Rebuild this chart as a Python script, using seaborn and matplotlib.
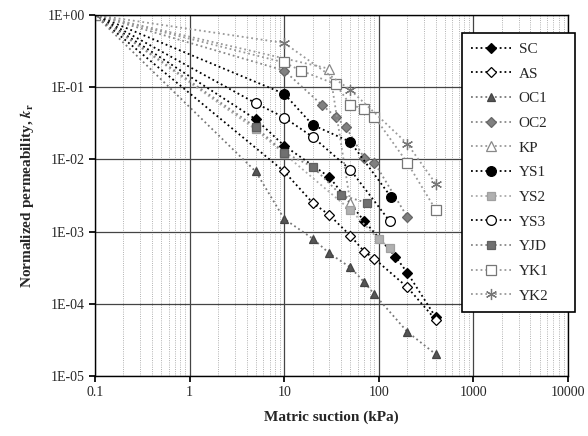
import numpy as np
import pandas as pd
import matplotlib
matplotlib.use("Agg")
import matplotlib.pyplot as plt
import seaborn as sns
from matplotlib.ticker import LogLocator, FixedLocator, NullFormatter

sns.set_theme(style="white")
plt.rcParams['font.family'] = ['Liberation Serif', 'DejaVu Serif']
plt.rcParams['mathtext.fontset'] = 'stix'

# ---- data (matric suction kPa, normalized permeability) ----
SC_x = [0.1, 5, 10, 30, 70, 150, 200, 400]
SC_k = [1, 0.036, 0.0155, 0.0057, 0.0014, 0.00045, 0.00027, 6.5e-5]
AS_x = [0.1, 10, 20, 30, 50, 70, 90, 200, 400]
AS_k = [1, 0.0068, 0.0025, 0.0017, 0.00088, 0.00053, 0.00042, 0.00017, 6e-5]
OC1_x = [0.1, 5, 10, 20, 30, 50, 70, 90, 200, 400]
OC1_k = [1, 0.0068, 0.0015, 0.0008, 0.0005, 0.00032, 0.0002, 0.000135, 4.1e-5, 2e-5]
OC2_x = [0.1, 10, 25, 35, 45, 70, 90, 200]
OC2_k = [1, 0.17, 0.057, 0.039, 0.028, 0.0105, 0.009, 0.0016]
KP_x = [0.1, 30, 50]
KP_k = [1, 0.18, 0.0025]
YS1_x = [0.1, 10, 20, 50, 135]
YS1_k = [1, 0.081, 0.030, 0.0175, 0.003]
YS2_x = [0.1, 5, 10, 50, 100, 130]
YS2_k = [1, 0.026, 0.012, 0.002, 0.00078, 0.0006]
YS3_x = [0.1, 5, 10, 20, 50, 130]
YS3_k = [1, 0.06, 0.038, 0.0205, 0.0072, 0.0014]
YJD_x = [0.1, 5, 10, 20, 40, 75]
YJD_k = [1, 0.028, 0.0124, 0.0079, 0.0032, 0.0025]
YK1_x = [0.1, 10, 15, 35, 50, 70, 90, 200, 400]
YK1_k = [1, 0.22, 0.17, 0.11, 0.057, 0.05, 0.039, 0.009, 0.002]
YK2_x = [0.1, 10, 50, 200, 400]
YK2_k = [1, 0.41, 0.092, 0.0165, 0.0046]

series = [
    ("SC", SC_x, SC_k), ("AS", AS_x, AS_k), ("OC1", OC1_x, OC1_k),
    ("OC2", OC2_x, OC2_k), ("KP", KP_x, KP_k), ("YS1", YS1_x, YS1_k),
    ("YS2", YS2_x, YS2_k), ("YS3", YS3_x, YS3_k), ("YJD", YJD_x, YJD_k),
    ("YK1", YK1_x, YK1_k), ("YK2", YK2_x, YK2_k),
]

styles = {
    "SC":  dict(marker="D", ms=5, mfc="black", mec="black", lc="black"),
    "AS":  dict(marker="D", ms=5, mfc="white", mec="black", lc="black"),
    "OC1": dict(marker="^", ms=6, mfc="#555555", mec="#444444", lc="#777777"),
    "OC2": dict(marker="D", ms=5, mfc="#808080", mec="#666666", lc="#888888"),
    "KP":  dict(marker="^", ms=7, mfc="white", mec="#888888", lc="#999999"),
    "YS1": dict(marker="o", ms=7, mfc="black", mec="black", lc="black"),
    "YS2": dict(marker="s", ms=6, mfc="#b0b0b0", mec="#a0a0a0", lc="#aaaaaa"),
    "YS3": dict(marker="o", ms=7, mfc="white", mec="black", lc="black"),
    "YJD": dict(marker="s", ms=6, mfc="#707070", mec="#606060", lc="#888888"),
    "YK1": dict(marker="s", ms=7, mfc="white", mec="#777777", lc="#999999"),
    "YK2": dict(marker=(6, 2, 0), ms=8, mfc="#777777", mec="#777777", lc="#999999"),
}

fig = plt.figure(figsize=(5.88, 4.36), dpi=100)
ax = fig.add_axes([95/588, 1-376/436, (568-95)/588, (376-15)/436])

for name, xs, ks in series:
    st = styles[name]
    df = pd.DataFrame({"x": xs, "k": ks})
    sns.lineplot(data=df, x="x", y="k", ax=ax, label=name,
                 color=st["lc"], linestyle=":", linewidth=1.3,
                 marker=st["marker"], markersize=st["ms"],
                 markerfacecolor=st["mfc"], markeredgecolor=st["mec"],
                 markeredgewidth=0.9, sort=False, estimator=None)

ax.set_xscale("log")
ax.set_yscale("log")
ax.set_xlim(0.1, 10000)
ax.set_ylim(1e-5, 1)

xt = [0.1, 1, 10, 100, 1000, 10000]
ax.xaxis.set_major_locator(FixedLocator(xt))
ax.set_xticklabels(["0.1", "1", "10", "100", "1000", "10000"])
ax.xaxis.set_minor_locator(LogLocator(base=10, subs=np.arange(2, 10)))
ax.xaxis.set_minor_formatter(NullFormatter())
yt = [1e0, 1e-1, 1e-2, 1e-3, 1e-4, 1e-5]
ax.yaxis.set_major_locator(FixedLocator(yt))
ax.set_yticklabels(["1E+00", "1E-01", "1E-02", "1E-03", "1E-04", "1E-05"])
ax.yaxis.set_minor_locator(FixedLocator([]))

ax.grid(True, which="major", color="#444444", linewidth=0.9, linestyle="-")
ax.grid(True, which="minor", axis="x", color="#999999", linewidth=0.6, linestyle=":")
ax.set_axisbelow(True)
for s in ax.spines.values():
    s.set_color("black")
    s.set_linewidth(1.0)

ax.tick_params(axis="both", which="major", labelsize=10, length=4, color="black",
               direction="out", bottom=True, left=True)
ax.tick_params(axis="both", which="minor", length=0)

ax.set_xlabel("Matric suction (kPa)", fontsize=11, fontweight="bold", labelpad=8)
ax.set_ylabel(r"Normalized permeability, $\boldsymbol{k}_{\mathbf{r}}$", fontsize=11,
              fontweight="bold", labelpad=8)

leg = ax.legend(loc="upper left",
                bbox_to_anchor=(462/588, 1-313/436, (575-462)/588, (313-33)/436),
                bbox_transform=fig.transFigure, mode="expand", frameon=True,
                fontsize=11, handlelength=2.6, labelspacing=0.72, borderpad=0.6,
                handletextpad=0.5, fancybox=False, borderaxespad=0)
leg.get_frame().set_edgecolor("black")
leg.get_frame().set_linewidth(1.2)
leg.get_frame().set_alpha(1)

fig.savefig("out.png", dpi=100)
